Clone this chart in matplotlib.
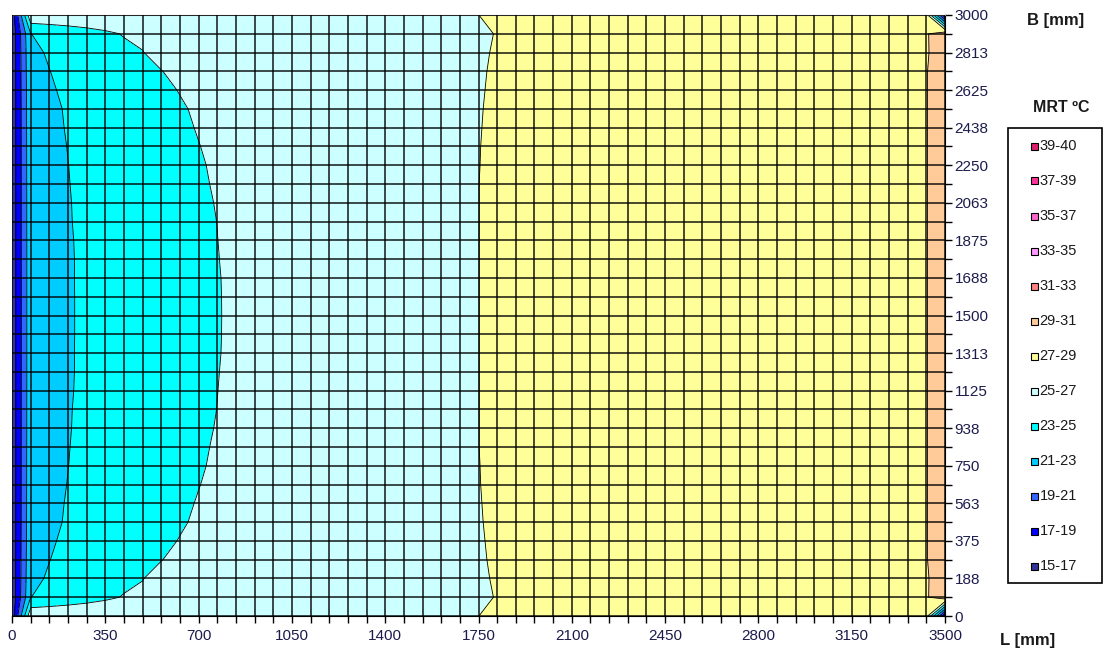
import numpy as np
import matplotlib
matplotlib.use('Agg')
import matplotlib.pyplot as plt
from matplotlib.patches import Rectangle
from matplotlib.ticker import FixedLocator

plt.rcParams['font.family'] = ['Liberation Sans', 'DejaVu Sans']

# ---------------- data ----------------
L_MM = [0, 70, 140, 210, 280, 350, 420, 490, 560, 630, 700, 770, 840, 910, 980,
        1050, 1120, 1190, 1260, 1330, 1400, 1470, 1540, 1610, 1680, 1750, 1820,
        1890, 1960, 2030, 2100, 2170, 2240, 2310, 2380, 2450, 2520, 2590, 2660,
        2730, 2800, 2870, 2940, 3010, 3080, 3150, 3220, 3290, 3360, 3430, 3500]
B_MM = [0, 93.75, 187.5, 281.25, 375, 468.75, 562.5, 656.25, 750, 843.75, 937.5,
        1031.25, 1125, 1218.75, 1312.5, 1406.25, 1500, 1593.75, 1687.5, 1781.25,
        1875, 1968.75, 2062.5, 2156.25, 2250, 2343.75, 2437.5, 2531.25, 2625,
        2718.75, 2812.5, 2906.25, 3000]

X_TICK_VALUES = [0, 350, 700, 1050, 1400, 1750, 2100, 2450, 2800, 3150, 3500]
X_TICK_LABELS = ['0', '350', '700', '1050', '1400', '1750', '2100', '2450',
                 '2800', '3150', '3500']
Y_TICK_VALUES = [0, 187.5, 375, 562.5, 750, 937.5, 1125, 1312.5, 1500, 1687.5,
                 1875, 2062.5, 2250, 2437.5, 2625, 2812.5, 3000]
Y_TICK_LABELS = ['0', '188', '375', '563', '750', '938', '1125', '1313', '1500',
                 '1688', '1875', '2063', '2250', '2438', '2625', '2813', '3000']

LEVELS = [15, 17, 19, 21, 23, 25, 27, 29, 31, 33, 35, 37, 39, 40]
BAND_LABELS = ['15-17', '17-19', '19-21', '21-23', '23-25', '25-27', '27-29',
               '29-31', '31-33', '33-35', '35-37', '37-39', '39-40']
BAND_COLORS = ['#333399', '#0000FF', '#3366FF', '#00CCFF', '#00FFFF', '#CCFFFF',
               '#FFFF99', '#FFCC99', '#FF8080', '#FF99FF', '#FF66CC', '#FF3399',
               '#E0206E']

# MRT values, columns L = 0..840 (rows from B = 0 up to B = 3000)
LEFT = [
    [15.6, 26.6, 26.6, 26.6, 26.6, 26.6, 26.6, 26.6, 26.6, 26.6, 26.6, 26.6, 26.6],
    [15.6, 22.98, 23.42, 23.84, 24.26, 24.68, 25.1, 25.2, 25.25, 25.3, 25.3, 25.3, 25.3],
    [15.6, 22.74, 23.11, 23.48, 23.86, 24.23, 24.60, 24.97, 25.35, 25.4, 25.45, 25.5, 25.5],
    [15.6, 22.65, 22.98, 23.31, 23.64, 23.97, 24.30, 24.64, 24.97, 25.30, 25.4, 25.45, 25.5],
    [15.6, 22.57, 22.88, 23.19, 23.50, 23.81, 24.12, 24.43, 24.74, 25.05, 25.35, 25.45, 25.5],
    [15.6, 22.50, 22.80, 23.09, 23.39, 23.69, 23.98, 24.28, 24.57, 24.87, 25.17, 25.35, 25.45],
    [15.6, 22.48, 22.77, 23.06, 23.35, 23.63, 23.92, 24.21, 24.50, 24.78, 25.07, 25.3, 25.4],
    [15.6, 22.47, 22.74, 23.02, 23.30, 23.58, 23.86, 24.14, 24.42, 24.69, 24.97, 25.25, 25.4],
    [15.6, 22.45, 22.72, 22.99, 23.26, 23.53, 23.80, 24.07, 24.34, 24.62, 24.89, 25.16, 25.35],
    [15.6, 22.44, 22.71, 22.97, 23.24, 23.51, 23.77, 24.04, 24.31, 24.57, 24.84, 25.11, 25.3],
    [15.6, 22.42, 22.69, 22.95, 23.21, 23.48, 23.74, 24.00, 24.26, 24.53, 24.79, 25.05, 25.3],
    [15.6, 22.42, 22.68, 22.94, 23.20, 23.45, 23.71, 23.97, 24.23, 24.49, 24.75, 25.01, 25.27],
    [15.6, 22.41, 22.66, 22.92, 23.18, 23.44, 23.70, 23.95, 24.21, 24.47, 24.73, 24.99, 25.25],
    [15.6, 22.40, 22.66, 22.91, 23.17, 23.43, 23.69, 23.94, 24.20, 24.46, 24.72, 24.97, 25.23],
    [15.6, 22.40, 22.66, 22.91, 23.17, 23.42, 23.68, 23.93, 24.18, 24.44, 24.69, 24.95, 25.20],
    [15.6, 22.40, 22.65, 22.91, 23.16, 23.42, 23.67, 23.93, 24.18, 24.43, 24.69, 24.94, 25.20],
    [15.6, 22.40, 22.65, 22.91, 23.16, 23.41, 23.67, 23.92, 24.17, 24.43, 24.68, 24.94, 25.19],
    [15.6, 22.40, 22.65, 22.91, 23.16, 23.42, 23.67, 23.93, 24.18, 24.43, 24.69, 24.94, 25.20],
    [15.6, 22.40, 22.66, 22.91, 23.17, 23.42, 23.68, 23.93, 24.18, 24.44, 24.69, 24.95, 25.20],
    [15.6, 22.40, 22.66, 22.91, 23.17, 23.43, 23.69, 23.94, 24.20, 24.46, 24.72, 24.97, 25.23],
    [15.6, 22.41, 22.66, 22.92, 23.18, 23.44, 23.70, 23.95, 24.21, 24.47, 24.73, 24.99, 25.25],
    [15.6, 22.42, 22.68, 22.94, 23.20, 23.45, 23.71, 23.97, 24.23, 24.49, 24.75, 25.01, 25.27],
    [15.6, 22.42, 22.69, 22.95, 23.21, 23.48, 23.74, 24.00, 24.26, 24.53, 24.79, 25.05, 25.3],
    [15.6, 22.44, 22.71, 22.97, 23.24, 23.51, 23.77, 24.04, 24.31, 24.57, 24.84, 25.11, 25.3],
    [15.6, 22.45, 22.72, 22.99, 23.26, 23.53, 23.80, 24.07, 24.34, 24.62, 24.89, 25.16, 25.35],
    [15.6, 22.47, 22.74, 23.02, 23.30, 23.58, 23.86, 24.14, 24.42, 24.69, 24.97, 25.25, 25.4],
    [15.6, 22.48, 22.77, 23.06, 23.35, 23.63, 23.92, 24.21, 24.50, 24.78, 25.07, 25.3, 25.4],
    [15.6, 22.50, 22.80, 23.09, 23.39, 23.69, 23.98, 24.28, 24.57, 24.87, 25.17, 25.35, 25.45],
    [15.6, 22.57, 22.88, 23.19, 23.50, 23.81, 24.12, 24.43, 24.74, 25.05, 25.35, 25.45, 25.5],
    [15.6, 22.65, 22.98, 23.31, 23.64, 23.97, 24.30, 24.64, 24.97, 25.30, 25.4, 25.45, 25.5],
    [15.6, 22.74, 23.11, 23.48, 23.86, 24.23, 24.60, 24.97, 25.35, 25.4, 25.45, 25.5, 25.5],
    [15.6, 22.98, 23.42, 23.84, 24.26, 24.68, 25.1, 25.2, 25.25, 25.3, 25.3, 25.3, 25.3],
    [15.6, 26.6, 26.6, 26.6, 26.6, 26.6, 26.6, 26.6, 26.6, 26.6, 26.6, 26.6, 26.6],
]
# columns L = 910..1680
MID_A = [25.3, 25.45, 25.6, 25.7, 25.8, 25.9, 26.0, 26.1, 26.2, 26.3, 26.4, 26.5]
MID_A_EDGE = [26.6, 26.6, 26.6, 26.6, 26.6, 26.6, 26.65, 26.65, 26.7, 26.7, 26.75, 26.8]
# columns L = 1750, 1820
C25_26 = [
    [26.99, 27.4], [26.52, 27.12], [26.64, 27.24], [26.73, 27.33], [26.79, 27.39],
    [26.85, 27.45], [26.89, 27.49], [26.93, 27.53], [26.95, 27.55], [26.98, 27.58],
    [26.98, 27.58], [26.98, 27.58], [26.98, 27.58], [26.98, 27.58], [26.98, 27.58],
    [26.98, 27.58], [26.98, 27.58], [26.98, 27.58], [26.98, 27.58], [26.98, 27.58],
    [26.98, 27.58], [26.98, 27.58], [26.98, 27.58], [26.98, 27.58], [26.95, 27.55],
    [26.93, 27.53], [26.89, 27.49], [26.85, 27.45], [26.79, 27.39], [26.73, 27.33],
    [26.64, 27.24], [26.52, 27.12], [26.99, 27.4],
]
# columns L = 1890..3360
MID_B = [27.7, 27.75, 27.8, 27.85, 27.9, 27.95, 28.0, 28.05, 28.1, 28.15, 28.2,
         28.25, 28.3, 28.35, 28.4, 28.45, 28.5, 28.55, 28.6, 28.65, 28.7, 28.8]
# columns L = 3430, 3500
C49_50 = [
    [27.9, 15.5], [28.8, 30.4], [28.85, 29.9], [28.93, 30.0], [28.93, 30.0],
    [28.93, 30.0], [28.93, 30.0], [28.93, 30.0], [28.93, 30.0], [28.93, 30.0],
    [28.93, 30.0], [28.93, 30.0], [28.93, 30.0], [28.93, 30.0], [28.93, 30.0],
    [28.93, 30.0], [28.93, 30.0], [28.93, 30.0], [28.93, 30.0], [28.93, 30.0],
    [28.93, 30.0], [28.93, 30.0], [28.93, 30.0], [28.93, 30.0], [28.93, 30.0],
    [28.93, 30.0], [28.93, 30.0], [28.93, 30.0], [28.93, 30.0], [28.93, 30.0],
    [28.85, 29.9], [28.8, 30.4], [27.9, 15.5],
]

# ------------- assemble table -------------
rows = []
for i in range(len(B_MM)):
    mid = MID_A_EDGE if i in (0, len(B_MM) - 1) else MID_A
    rows.append(LEFT[i] + mid + C25_26[i] + MID_B + C49_50[i])
Z = np.array(rows)
X, Y = np.meshgrid(L_MM, B_MM)

W, H = 1108, 658
fig = plt.figure(figsize=(W / 100, H / 100), dpi=100)
ax = fig.add_axes([12 / W, 42 / H, 933 / W, 601 / H])

ax.contourf(X, Y, Z, levels=LEVELS, colors=BAND_COLORS, zorder=1)
ax.contour(X, Y, Z, levels=LEVELS, colors='#000000', linewidths=0.6, zorder=2)
ax.vlines(L_MM, B_MM[0], B_MM[-1], colors='#000000', linewidth=1.3, alpha=0.78, zorder=3)
ax.hlines(B_MM, L_MM[0], L_MM[-1], colors='#000000', linewidth=1.3, alpha=0.78, zorder=3)

ax.set_xlim(L_MM[0], L_MM[-1])
ax.set_ylim(B_MM[0], B_MM[-1])

tick_col = '#1c1c4c'
ax.xaxis.set_major_locator(FixedLocator(X_TICK_VALUES))
ax.set_xticklabels(X_TICK_LABELS)
ax.xaxis.set_minor_locator(FixedLocator(L_MM))
ax.yaxis.tick_right()
ax.yaxis.set_major_locator(FixedLocator(Y_TICK_VALUES))
ax.set_yticklabels(Y_TICK_LABELS)
ax.yaxis.set_minor_locator(FixedLocator(B_MM))
ax.tick_params(axis='both', which='both', direction='out', length=5, width=1.0,
               color='#000000', labelsize=11, labelcolor=tick_col)
ax.tick_params(axis='x', which='major', pad=4)
ax.tick_params(axis='y', which='major', pad=2)

ax.spines['left'].set_visible(False)
ax.spines['top'].set_color('#8a8a8a')
ax.spines['right'].set_color('#000000')
ax.spines['bottom'].set_color('#000000')

# axis titles
fig.text(1056 / W, 1 - 20 / H, 'B [mm]', ha='center', va='center',
         fontsize=12, fontweight='bold', color='#1a1a1a')
fig.text(1028 / W, 1 - 640 / H, 'L [mm]', ha='center', va='center',
         fontsize=12, fontweight='bold', color='#1a1a1a')
fig.text(1061 / W, 1 - 107 / H, 'MRT ºC', ha='center', va='center',
         fontsize=11.5, fontweight='bold', color='#1a1a1a')

# legend box
fig.patches.append(Rectangle((1008 / W, 1 - 583 / H), 94 / W, 455 / H,
                             transform=fig.transFigure, facecolor='white',
                             edgecolor='#000000', linewidth=1.2))
for k, (lab, col) in enumerate(zip(BAND_LABELS[::-1], BAND_COLORS[::-1])):
    yc = 146 + 35 * k
    fig.patches.append(Rectangle(((1034 - 3.5) / W, 1 - (yc + 3.5) / H), 7 / W, 7 / H,
                                 transform=fig.transFigure, facecolor=col,
                                 edgecolor='#000000', linewidth=0.8))
    fig.text(1039.5 / W, 1 - yc / H, lab, ha='left', va='center',
             fontsize=10.5, color='#1a1a1a')

fig.savefig('out.png', dpi=100)
